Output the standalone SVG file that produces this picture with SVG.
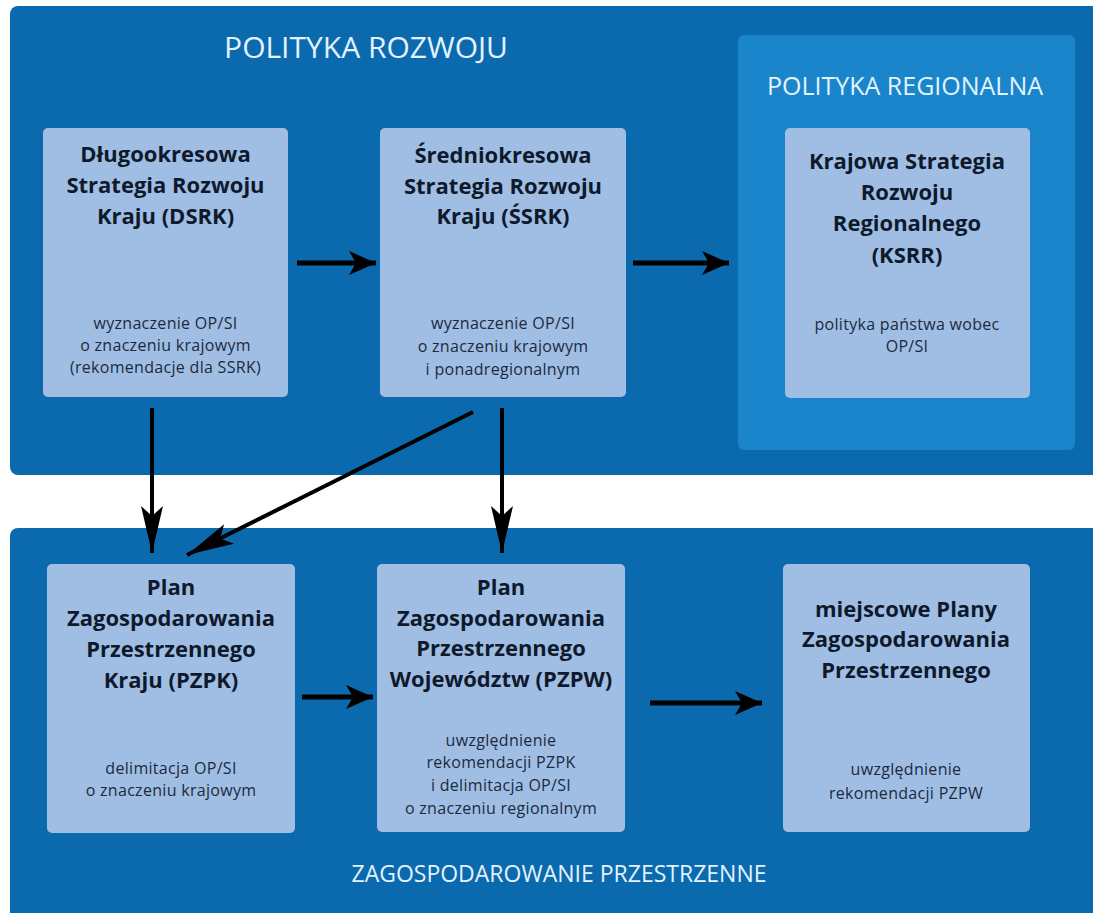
<svg xmlns="http://www.w3.org/2000/svg" width="1093" height="913" viewBox="0 0 1093 913">
<defs>
<style>
.panel{fill:#0b6aad}
.regpanel{fill:#1b85cc}
.box{fill:#a0bee4}
.title{font-family:"Open Sans","Liberation Sans",sans-serif;fill:#e2f2ff;text-anchor:middle}
.bt{font-family:"Open Sans","Liberation Sans",sans-serif;font-weight:bold;font-size:22px;fill:#0e1a2c;text-anchor:middle}
.st{font-family:"Open Sans","Liberation Sans",sans-serif;font-size:16px;fill:#1b2a40;text-anchor:middle;letter-spacing:0.3px}
.conn{stroke:#000;fill:none}
</style>
<marker id="hs" markerUnits="userSpaceOnUse" viewBox="0 0 28 24" refX="27" refY="12" markerWidth="28" markerHeight="24" orient="auto">
<path d="M0,0 L27,12 L0,24 L7,12 Z" fill="#000"/>
</marker>
<marker id="hl" markerUnits="userSpaceOnUse" viewBox="0 0 48 24" refX="47" refY="12" markerWidth="48" markerHeight="24" orient="auto">
<path d="M0,1 L47,12 L0,23 L10,12 Z" fill="#000"/>
</marker>
</defs>
<rect width="1093" height="913" fill="#ffffff"/>
<rect class="panel" x="10" y="6" width="1100" height="469" rx="8"/>
<rect class="panel" x="10" y="528" width="1100" height="400" rx="8"/>
<text class="title" x="366" y="58" font-size="30">POLITYKA ROZWOJU</text>
<text class="title" x="559" y="882" font-size="23">ZAGOSPODAROWANIE PRZESTRZENNE</text>
<g id="regional">
<rect class="regpanel" x="738" y="35" width="337" height="415" rx="6"/>
<text class="title" x="905" y="95" font-size="25">POLITYKA REGIONALNA</text>
</g>
<g id="dsrk">
<rect class="box" x="43" y="128" width="245" height="269" rx="5"/>
<text class="bt" x="165.5" y="162">Długookresowa</text>
<text class="bt" x="165.5" y="193">Strategia Rozwoju</text>
<text class="bt" x="165.5" y="224">Kraju (DSRK)</text>
<text class="st" x="165.5" y="329">wyznaczenie OP/SI</text>
<text class="st" x="165.5" y="351">o znaczeniu krajowym</text>
<text class="st" x="165.5" y="373">(rekomendacje dla SSRK)</text>
</g>
<g id="ssrk">
<rect class="box" x="380" y="128" width="246" height="269" rx="5"/>
<text class="bt" x="503" y="163">Średniokresowa</text>
<text class="bt" x="503" y="194">Strategia Rozwoju</text>
<text class="bt" x="503" y="224">Kraju (ŚSRK)</text>
<text class="st" x="503" y="329">wyznaczenie OP/SI</text>
<text class="st" x="503" y="352">o znaczeniu krajowym</text>
<text class="st" x="503" y="375">i ponadregionalnym</text>
</g>
<g id="ksrr">
<rect class="box" x="785" y="128" width="245" height="270" rx="5"/>
<text class="bt" x="907" y="169">Krajowa Strategia</text>
<text class="bt" x="907" y="200">Rozwoju</text>
<text class="bt" x="907" y="231">Regionalnego</text>
<text class="bt" x="907" y="263">(KSRR)</text>
<text class="st" x="907" y="330">polityka państwa wobec</text>
<text class="st" x="907" y="352">OP/SI</text>
</g>
<g id="pzpk">
<rect class="box" x="47" y="564" width="248" height="269" rx="5"/>
<text class="bt" x="171" y="595">Plan</text>
<text class="bt" x="171" y="626">Zagospodarowania</text>
<text class="bt" x="171" y="657">Przestrzennego</text>
<text class="bt" x="171" y="688">Kraju (PZPK)</text>
<text class="st" x="171" y="774">delimitacja OP/SI</text>
<text class="st" x="171" y="796">o znaczeniu krajowym</text>
</g>
<g id="pzpw">
<rect class="box" x="377" y="564" width="248" height="268" rx="5"/>
<text class="bt" x="501" y="595">Plan</text>
<text class="bt" x="501" y="626">Zagospodarowania</text>
<text class="bt" x="501" y="656">Przestrzennego</text>
<text class="bt" x="501" y="687">Województw (PZPW)</text>
<text class="st" x="501" y="746">uwzględnienie</text>
<text class="st" x="501" y="768">rekomendacji PZPK</text>
<text class="st" x="501" y="791">i delimitacja OP/SI</text>
<text class="st" x="501" y="814">o znaczeniu regionalnym</text>
</g>
<g id="mpzp">
<rect class="box" x="783" y="564" width="247" height="268" rx="5"/>
<text class="bt" x="906" y="617">miejscowe Plany</text>
<text class="bt" x="906" y="647">Zagospodarowania</text>
<text class="bt" x="906" y="678">Przestrzennego</text>
<text class="st" x="906" y="775">uwzględnienie</text>
<text class="st" x="906" y="799">rekomendacji PZPW</text>
</g>
<g id="connectors">
<line class="conn" stroke-width="5" x1="297" y1="263" x2="376" y2="263" marker-end="url(#hs)"/>
<line class="conn" stroke-width="5" x1="633" y1="263" x2="729" y2="263" marker-end="url(#hs)"/>
<line class="conn" stroke-width="5" x1="302" y1="697" x2="373" y2="697" marker-end="url(#hs)"/>
<line class="conn" stroke-width="5" x1="650" y1="703" x2="762" y2="703" marker-end="url(#hs)"/>
<line class="conn" stroke-width="4" x1="152" y1="408" x2="152" y2="553" marker-end="url(#hl)"/>
<line class="conn" stroke-width="4" x1="502" y1="408" x2="502" y2="553" marker-end="url(#hl)"/>
<line class="conn" stroke-width="4" x1="473" y1="412" x2="187" y2="555" marker-end="url(#hl)"/>
</g>
</svg>
